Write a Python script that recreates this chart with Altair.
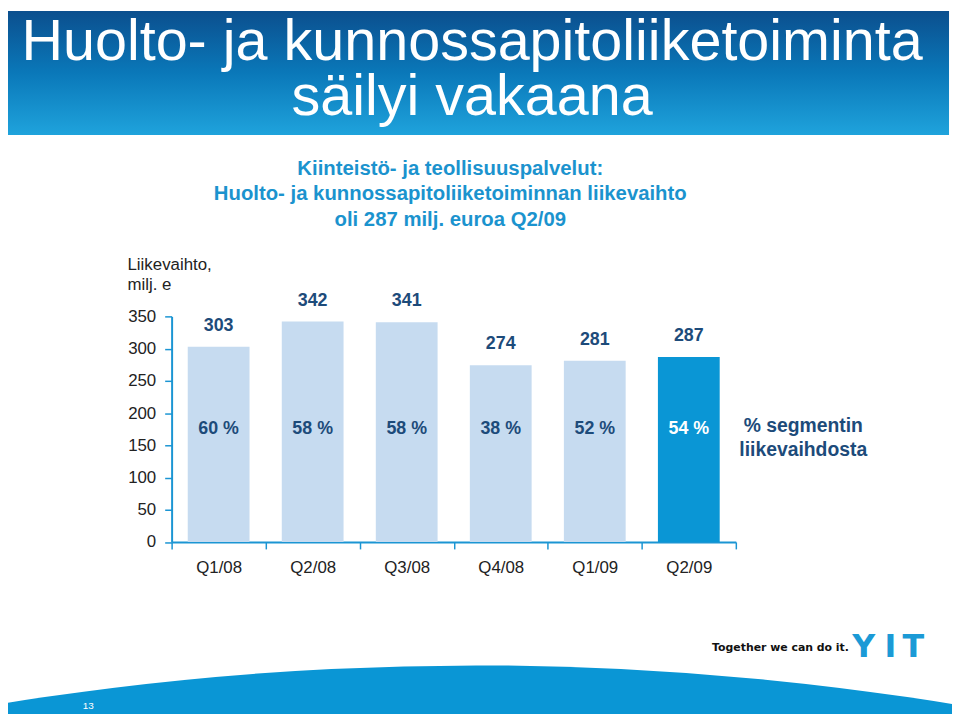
import altair as alt
import pandas as pd

# ---- data ----
quarters = ["Q1/08", "Q2/08", "Q3/08", "Q4/08", "Q1/09", "Q2/09"]
revenue = [303, 342, 341, 274, 281, 287]          # milj. e
segment_share = [60, 58, 58, 38, 52, 54]          # % segmentin liikevaihdosta
highlight_quarter = "Q2/09"
y_ticks = [0, 50, 100, 150, 200, 250, 300, 350]

title_lines = ["Huolto- ja kunnossapitoliiketoiminta", "säilyi vakaana"]
subtitle_lines = [
    "Kiinteistö- ja teollisuuspalvelut:",
    "Huolto- ja kunnossapitoliiketoiminnan liikevaihto",
    "oli 287 milj. euroa Q2/09",
]
y_title = ["Liikevaihto,", "milj. e"]
share_note = ["% segmentin", "liikevaihdosta"]
footer_text = "Together we can do it."
logo_letters = ["Y", "I", "T"]
page_number = "13"

df = pd.DataFrame({
    "q": quarters,
    "v": revenue,
    "pct": [f"{s} %" for s in segment_share],
})

FONT = "Liberation Sans"
AX = "#1b95d3"
NAVY = "#1d4b7a"
LIGHT_BAR = "#c6dbf0"
HI_BAR = "#0a96d5"
SUB = "#1b93ce"
TXT = "#222222"

one = pd.DataFrame({"a": [0]})


def text_mark(text, x, y, size, color, weight="normal", align="center",
              font=FONT, line_height=None):
    kw = dict(text=text, align=align, baseline="alphabetic", fontSize=size,
              font=font, fontWeight=weight, color=color)
    if line_height is not None:
        kw["lineHeight"] = line_height
    return alt.Chart(one).mark_text(**kw).encode(x=alt.value(x), y=alt.value(y))


# ---- decorations (pixel positions relative to plot origin) ----
banner = alt.Chart(one).mark_rect(
    color={
        "gradient": "linear",
        "x1": 0, "x2": 0, "y1": 0, "y2": 1,
        "stops": [
            {"offset": 0, "color": "#0b4f8e"},
            {"offset": 0.5, "color": "#0a78b9"},
            {"offset": 1, "color": "#1fa3dc"},
        ],
    }
).encode(x=alt.value(-165), x2=alt.value(784), y=alt.value(-308), y2=alt.value(-183))

swoosh = alt.Chart(one).mark_arc(
    radius=2976, theta=0, theta2=6.2832, color=HI_BAR
).encode(x=alt.value(307), y=alt.value(3328))

title = text_mark(title_lines, 303, -259, 58, "white", line_height=56)
subtitle = text_mark(subtitle_lines, 281, -143, 20.5, SUB, weight="bold", line_height=26)
note = text_mark(share_note, 637, 117, 19.5, NAVY, weight="bold", line_height=24)
footer = text_mark(footer_text, 545, 337, 11, "#111111", weight="bold",
                   align="left", font="DejaVu Sans")
logo = [
    text_mark(logo_letters[0], 698, 344, 32, "#1b9ad6", weight="bold", font="DejaVu Sans"),
    text_mark(logo_letters[1], 725, 344, 32, "#1b9ad6", weight="bold", font="DejaVu Sans"),
    text_mark(logo_letters[2], 748, 344, 32, "#1b9ad6", weight="bold", font="DejaVu Sans"),
]
pageno = text_mark(page_number, -84, 396, 10, "white")

# ---- data layers ----
x_enc = alt.X(
    "q:N", sort=quarters,
    scale=alt.Scale(paddingInner=0, paddingOuter=0),
    axis=alt.Axis(
        title=None, labelAngle=0, labelFontSize=17, labelColor=TXT, labelFont=FONT,
        labelPadding=11, tickSize=7, tickColor=AX, tickWidth=1.5, tickBand="extent",
        domainColor=AX, domainWidth=2,
    ),
)
y_enc = alt.Y(
    "v:Q", scale=alt.Scale(domain=[0, 350], nice=False),
    axis=alt.Axis(
        values=y_ticks, grid=False, labelOverlap=False,
        title=y_title, titleAngle=0, titleAlign="left", titleBaseline="alphabetic",
        titleX=-45, titleY=-47, titleFontSize=17, titleFontWeight="normal",
        titleColor=TXT, titleFont=FONT, titleLineHeight=20,
        labelFontSize=17, labelColor=TXT, labelFont=FONT, labelPadding=9,
        tickSize=7, tickColor=AX, tickWidth=1.5, domainColor=AX, domainWidth=2,
    ),
)

base = alt.Chart(df).encode(x=x_enc)

bars = base.mark_bar(width=alt.RelativeBandSize(0.657)).encode(
    y=y_enc,
    color=alt.condition(alt.datum.q == highlight_quarter, alt.value(HI_BAR), alt.value(LIGHT_BAR)),
)

values = base.mark_text(
    dy=-21, baseline="middle", fontSize=18, fontWeight="bold", font=FONT, color=NAVY
).encode(y=y_enc, text="v:Q")

shares = base.mark_text(
    baseline="middle", fontSize=18, fontWeight="bold", font=FONT
).encode(
    y=alt.value(114),
    text="pct:N",
    color=alt.condition(alt.datum.q == highlight_quarter, alt.value("white"), alt.value(NAVY)),
)

chart = alt.layer(
    banner, swoosh, title, subtitle, note, footer, *logo, pageno,
    bars, values, shares,
).properties(
    width=569,
    height=227.5,
    autosize=alt.AutoSizeParams(type="none"),
    padding={"left": 165, "top": 308, "right": 218, "bottom": 170.5},
    background="white",
).configure_view(strokeWidth=0)

chart.save("out.html", embed_options={"renderer": "svg", "actions": False})
